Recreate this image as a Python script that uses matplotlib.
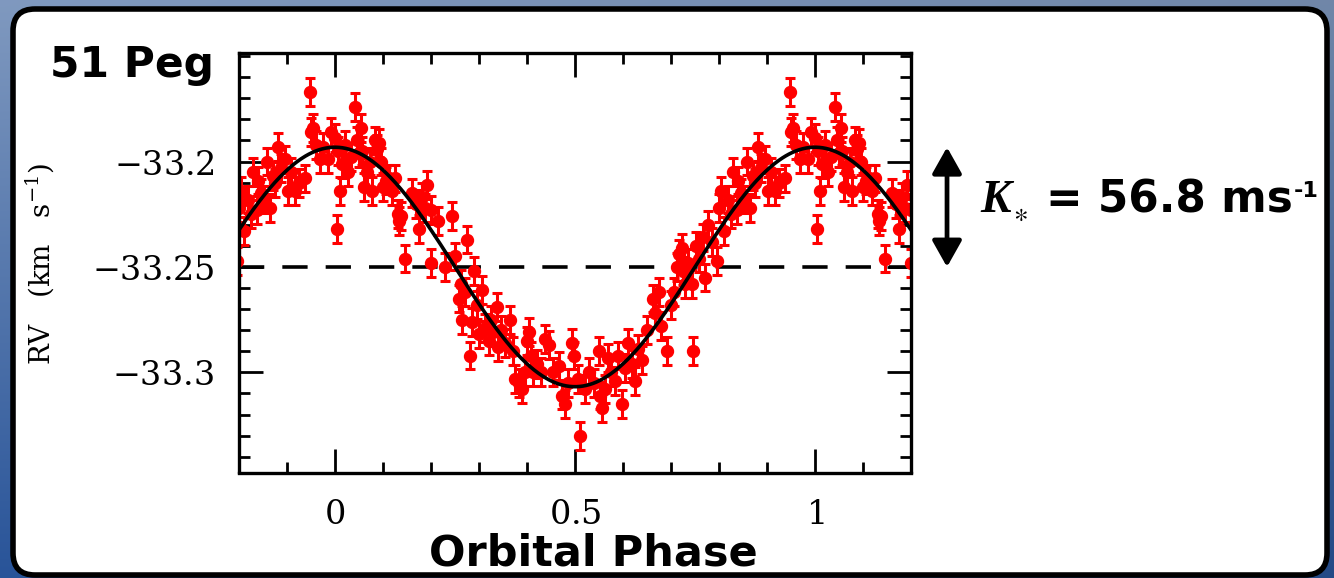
import numpy as np
import matplotlib
matplotlib.use("Agg")
import matplotlib.pyplot as plt
from matplotlib.patches import FancyBboxPatch
from matplotlib.ticker import MultipleLocator

# ---- 51 Peg radial velocities folded on the orbital period ----
phase = [
    0.001, 0.004, 0.006, 0.010, 0.014, 0.020, 0.027, 0.034, 0.041, 0.046,
    0.050, 0.054, 0.057, 0.060, 0.066, 0.072, 0.078, 0.083, 0.087, 0.091,
    0.095, 0.100, 0.106, 0.112, 0.118, 0.124, 0.131, 0.134, 0.137, 0.146,
    0.160, 0.169, 0.176, 0.182, 0.187, 0.192, 0.199, 0.201, 0.215, 0.230,
    0.244, 0.250, 0.258, 0.262, 0.265, 0.270, 0.275, 0.282, 0.285, 0.289,
    0.295, 0.300, 0.306, 0.313, 0.320, 0.325, 0.330, 0.337, 0.340, 0.345,
    0.355, 0.365, 0.370, 0.376, 0.383, 0.390, 0.395, 0.401, 0.405, 0.408,
    0.412, 0.420, 0.430, 0.438, 0.445, 0.455, 0.466, 0.473, 0.480, 0.486,
    0.493, 0.497, 0.507, 0.511, 0.520, 0.530, 0.540, 0.549, 0.552, 0.556,
    0.562, 0.568, 0.575, 0.583, 0.590, 0.597, 0.604, 0.611, 0.618, 0.625,
    0.632, 0.639, 0.650, 0.663, 0.667, 0.675, 0.680, 0.691, 0.700, 0.706,
    0.712, 0.716, 0.722, 0.725, 0.730, 0.736, 0.743, 0.746, 0.752, 0.758,
    0.767, 0.771, 0.778, 0.785, 0.795, 0.800, 0.805, 0.810, 0.818, 0.825,
    0.830, 0.837, 0.840, 0.846, 0.852, 0.858, 0.864, 0.870, 0.876, 0.881,
    0.887, 0.895, 0.902, 0.909, 0.916, 0.925, 0.937, 0.947, 0.951, 0.955,
    0.960, 0.968, 0.975, 0.985, 0.992,
]
rv = [
    -33.189, -33.232, -33.195, -33.214, -33.201, -33.192, -33.205, -33.198, -33.174, -33.190,
    -33.196, -33.184, -33.195, -33.212, -33.205, -33.200, -33.214, -33.190, -33.194, -33.191,
    -33.200, -33.212, -33.209, -33.208, -33.214, -33.208, -33.225, -33.228, -33.226, -33.246,
    -33.215, -33.220, -33.232, -33.217, -33.222, -33.211, -33.223, -33.248, -33.228, -33.250,
    -33.226, -33.245, -33.265, -33.258, -33.275, -33.262, -33.237, -33.292, -33.276, -33.252,
    -33.268, -33.282, -33.261, -33.279, -33.285, -33.275, -33.281, -33.269, -33.288, -33.280,
    -33.286, -33.275, -33.290, -33.303, -33.305, -33.308, -33.300, -33.285, -33.281, -33.292,
    -33.300, -33.296, -33.300, -33.284, -33.287, -33.300, -33.297, -33.311, -33.315, -33.305,
    -33.286, -33.292, -33.303, -33.330, -33.308, -33.300, -33.305, -33.290, -33.311, -33.317,
    -33.308, -33.293, -33.300, -33.304, -33.292, -33.315, -33.298, -33.286, -33.296, -33.304,
    -33.289, -33.294, -33.280, -33.265, -33.272, -33.262, -33.278, -33.290, -33.268, -33.262,
    -33.250, -33.244, -33.241, -33.252, -33.258, -33.248, -33.258, -33.290, -33.240, -33.246,
    -33.236, -33.255, -33.230, -33.238, -33.247, -33.222, -33.214, -33.233, -33.218, -33.225,
    -33.205, -33.223, -33.209, -33.215, -33.218, -33.200, -33.222, -33.207, -33.210, -33.193,
    -33.203, -33.199, -33.214, -33.205, -33.214, -33.210, -33.208, -33.167, -33.186, -33.184,
    -33.192, -33.199, -33.193, -33.199, -33.186,
]
rv_err = 0.0066          # km/s, typical 1-sigma uncertainty

# ---- orbit solution ----
gamma = -33.25           # systemic velocity, km/s
K_star = 0.0568          # semi-amplitude, km/s (56.8 m/s)

xtick_values = [0, 0.5, 1]
xtick_labels = ["0", "0.5", "1"]
ytick_values = [-33.3, -33.25, -33.2]
ytick_labels = ["-33.3", "-33.25", "-33.2"]
phase_range = (-0.2, 1.2)
rv_range = (-33.3475, -33.1485)

plt.rcParams["mathtext.fontset"] = "dejavuserif"

W, H = 1334, 578
fig = plt.figure(figsize=(W / 100, H / 100), dpi=100)


def fx(px):
    return px / W


def fy(py):
    return 1 - py / H


# ---- slide background and white panel ----
bg = fig.add_axes([0, 0, 1, 1], zorder=-10)
gy, gx = np.mgrid[0:1:80j, 0:1:160j]
top = np.array([0.50, 0.60, 0.75])
bottom = np.array([0.16, 0.33, 0.60])
grad = top[None, None, :] * (1 - gy[..., None]) + bottom[None, None, :] * gy[..., None]
grad = grad * (1 - 0.12 * gx[..., None])
bg.imshow(grad, extent=(0, W, H, 0), aspect="auto", interpolation="bicubic")
bg.add_patch(FancyBboxPatch((13, 9), 1314, 566,
                            boxstyle="round,pad=0,rounding_size=22",
                            fc="white", ec="black", lw=4))
bg.set_xlim(0, W)
bg.set_ylim(H, 0)
bg.axis("off")

# ---- RV panel ----
ax = fig.add_axes([fx(239), fy(472.5), 672 / W, 419.5 / H])

ph = np.asarray(phase)
for shift in (-1, 0, 1):
    ax.errorbar(ph + shift, rv, yerr=rv_err, fmt="o", color="#ff0000",
                ms=8.6, elinewidth=2.2, capsize=3.8, capthick=2.2, zorder=2)

grid = np.linspace(phase_range[0], phase_range[1], 800)
ax.plot(grid, gamma + K_star * np.cos(2 * np.pi * grid), color="black",
        lw=2.6, zorder=3)
ax.axhline(gamma, color="black", lw=2.6, dashes=(7, 5), zorder=1)

ax.set_xlim(*phase_range)
ax.set_ylim(*rv_range)
ax.set_xticks(xtick_values, labels=[f"${t}$" for t in xtick_labels])
ax.set_yticks(ytick_values, labels=[f"${t}$" for t in ytick_labels])
ax.xaxis.set_minor_locator(MultipleLocator(0.1))
ax.yaxis.set_minor_locator(MultipleLocator(0.01))
ax.tick_params(which="both", direction="in", top=True, right=True,
               width=2.0, colors="black", labelsize=24, pad=18)
ax.tick_params(which="major", length=17)
ax.tick_params(which="minor", length=8)
for sp in ax.spines.values():
    sp.set_linewidth(2.4)

fig.text(fx(40), fy(264), r"$\mathrm{RV\ \ \ (km\ \ \ s^{-1})}$", rotation=90,
         ha="center", va="center", fontsize=20)

# semi-amplitude arrow, from the systemic velocity up to gamma + K
ax.annotate("", xy=(1.0536, gamma + K_star), xytext=(1.0536, gamma),
            xycoords=("axes fraction", "data"),
            textcoords=("axes fraction", "data"),
            arrowprops=dict(arrowstyle="<|-|>,head_length=0.8,head_width=0.45",
                            mutation_scale=20, lw=3.4, color="black",
                            shrinkA=0, shrinkB=0),
            annotation_clip=False)

# ---- annotations ----
fig.text(fx(50), fy(77), "51 Peg", fontsize=30.5, fontweight="bold",
         family="DejaVu Sans", ha="left", va="baseline")

fig.text(fx(980), fy(212), "K", family="Liberation Serif", style="italic",
         weight="bold", fontsize=33, ha="left", va="baseline")
fig.text(fx(1020), fy(214), r"$\ast$", fontsize=20, ha="center", va="center",
         math_fontfamily="stix")
k_txt = fig.text(fx(1046), fy(212), f"= {K_star * 1000:.1f} ms",
                 family="DejaVu Sans", weight="bold", fontsize=31.5,
                 ha="left", va="baseline")
fig.canvas.draw()
bb = k_txt.get_window_extent(fig.canvas.get_renderer())
fig.text(bb.x1 / W + 0.001, fy(197), "-1", family="DejaVu Sans",
         weight="bold", fontsize=16, ha="left", va="baseline")

fig.text(fx(593.5), fy(565), "Orbital Phase", family="DejaVu Sans",
         weight="bold", fontsize=31, ha="center", va="baseline")

fig.savefig("out.png", dpi=100)
